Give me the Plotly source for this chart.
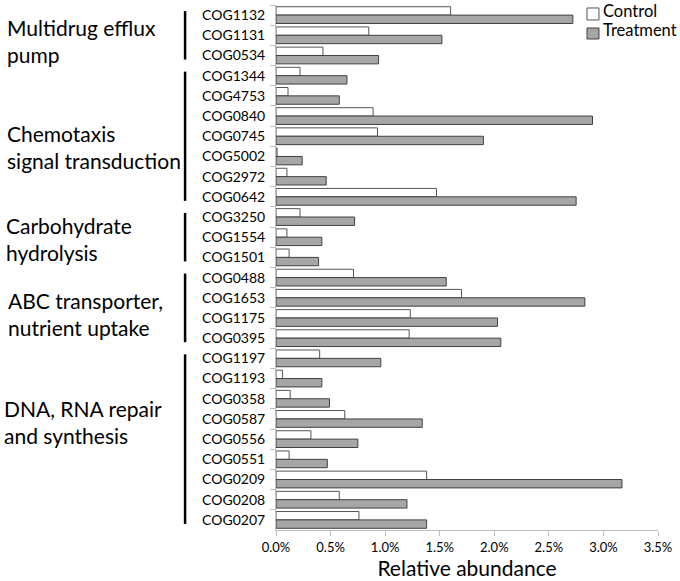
import plotly.graph_objects as go

categories = ["COG1132", "COG1131", "COG0534",
              "COG1344", "COG4753", "COG0840", "COG0745", "COG5002", "COG2972", "COG0642",
              "COG3250", "COG1554", "COG1501",
              "COG0488", "COG1653", "COG1175", "COG0395",
              "COG1197", "COG1193", "COG0358", "COG0587", "COG0556", "COG0551", "COG0209", "COG0208", "COG0207"]

control = [1.60, 0.85, 0.43,
           0.22, 0.11, 0.89, 0.93, 0.01, 0.10, 1.47,
           0.22, 0.10, 0.12,
           0.71, 1.70, 1.23, 1.22,
           0.40, 0.06, 0.13, 0.63, 0.32, 0.12, 1.38, 0.58, 0.76]

treatment = [2.72, 1.52, 0.94,
             0.65, 0.58, 2.90, 1.90, 0.24, 0.46, 2.75,
             0.72, 0.42, 0.39,
             1.56, 2.83, 2.03, 2.06,
             0.96, 0.42, 0.49, 1.34, 0.75, 0.47, 3.17, 1.20, 1.38]

group_names = ["Multidrug efflux<br>pump",
               "Chemotaxis<br>signal transduction",
               "Carbohydrate<br>hydrolysis",
               "ABC transporter,<br>nutrient uptake",
               "DNA, RNA repair<br>and synthesis"]
group_sizes = [3, 7, 3, 4, 9]

series_names = ["Control", "Treatment"]
series_fill = ["white", "#a6a6a6"]
series_edge = ["#555555", "#404040"]

x_ticks = [0, 0.5, 1.0, 1.5, 2.0, 2.5, 3.0, 3.5]
x_tick_labels = ["0.0%", "0.5%", "1.0%", "1.5%", "2.0%", "2.5%", "3.0%", "3.5%"]

FONT = "Lato"

fig = go.Figure()
for name, vals, fill, edge in zip(series_names, [control, treatment], series_fill, series_edge):
    fig.add_trace(go.Bar(
        y=categories, x=vals, orientation="h", name=name,
        marker=dict(color=fill, line=dict(color=edge, width=1)),
    ))

# group brackets and labels
label_offsets = [0.30, 0.55, 0.10, 0.30, -0.87]
label_x = [-0.7094, -0.7094, -0.712, -0.7068, -0.7173]
shapes = []
annotations = []
start = 0
for name, n, off, lx in zip(group_names, group_sizes, label_offsets, label_x):
    end = start + n - 1
    shapes.append(dict(type="line", xref="paper", yref="y",
                       x0=-0.238, x1=-0.238, y0=start - 0.2, y1=end + 0.2,
                       line=dict(color="black", width=2.5)))
    annotations.append(dict(xref="paper", yref="y", x=lx, y=(start + end) / 2 + off,
                            text=name, showarrow=False, xanchor="left", yanchor="middle",
                            align="left", font=dict(family=FONT, size=21, color="black")))
    start = end + 1

# legend (drawn manually so it can sit at the top-right corner like the original)
leg_sq = [(0.99429, 0.97143), (0.95619, 0.93524)]
leg_txt_y = [0.9886, 0.9524]
for name, fill, edge, (ya, yb), ty in zip(series_names, series_fill, series_edge, leg_sq, leg_txt_y):
    shapes.append(dict(type="rect", xref="paper", yref="paper",
                       x0=0.8141, x1=0.8455, y0=yb, y1=ya,
                       fillcolor=fill, line=dict(color=edge, width=1)))
    annotations.append(dict(xref="paper", yref="paper", x=0.8495, y=ty, text=name,
                            showarrow=False, xanchor="left", yanchor="middle",
                            font=dict(family=FONT, size=16.5, color="black")))

fig.update_layout(
    width=680, height=581,
    margin=dict(l=276, r=22, t=5, b=51),
    paper_bgcolor="white", plot_bgcolor="white",
    barmode="group", bargap=0.17, bargroupgap=0,
    font=dict(family=FONT, color="black"),
    shapes=shapes, annotations=annotations,
    showlegend=False,
)
fig.update_xaxes(
    range=[0, 3.5], tickvals=x_ticks, ticktext=x_tick_labels,
    showgrid=False, zeroline=False, automargin=False,
    showline=True, linecolor="#bfbfbf", linewidth=1,
    ticks="outside", ticklen=5, tickcolor="#bfbfbf",
    tickfont=dict(family=FONT, size=13, color="black"),
    title=dict(text="Relative abundance", standoff=3,
               font=dict(family=FONT, size=21, color="black")),
)
fig.update_yaxes(
    categoryorder="array", categoryarray=categories,
    range=[len(categories) - 0.5, -0.5], automargin=False,
    tickson="boundaries", ticks="outside", ticklen=5, tickcolor="#bfbfbf",
    ticklabelstandoff=7,
    showline=True, linecolor="#bfbfbf", linewidth=1,
    showgrid=False, zeroline=False,
    tickfont=dict(family=FONT, size=14, color="black"),
)

fig.write_html("out.html", config={"displayModeBar": False},
               post_script="document.body.style.margin='0px';")
